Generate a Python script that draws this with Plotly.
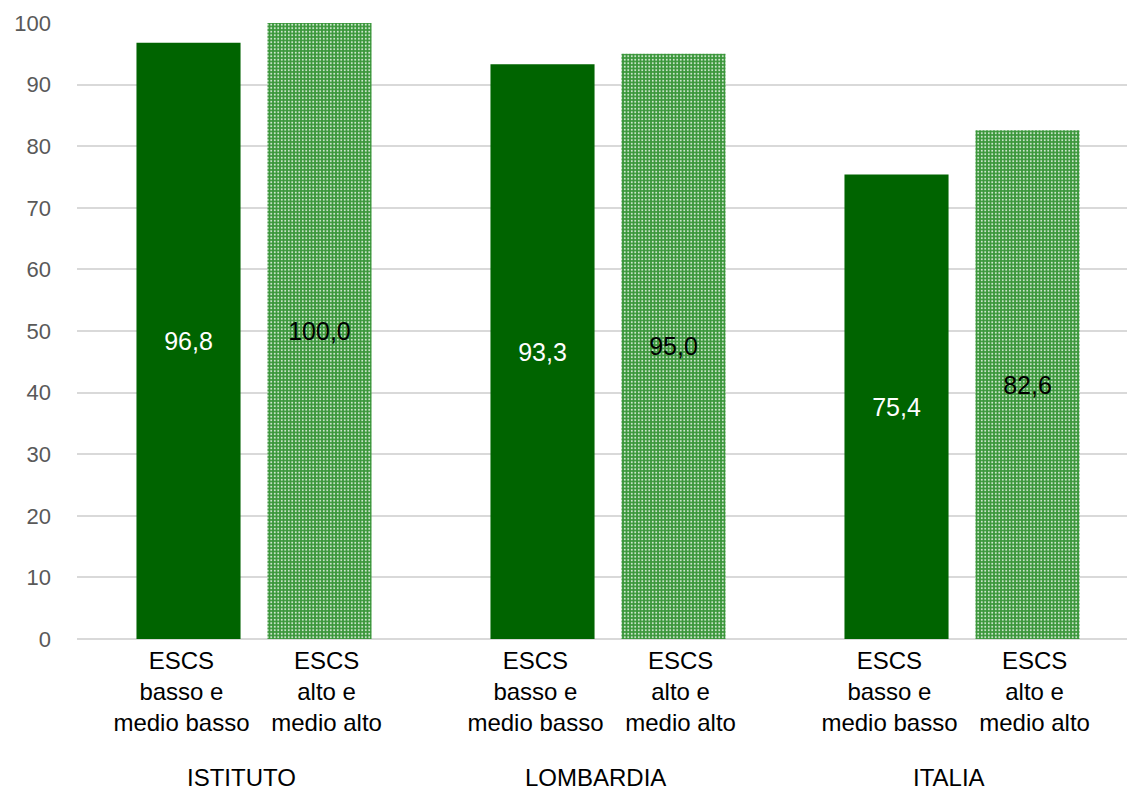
import plotly.graph_objects as go

groups = ["ISTITUTO", "LOMBARDIA", "ITALIA"]
sub_labels = ["ESCS<br>basso e<br>medio basso", "ESCS<br>alto e<br>medio alto"]
basso = [96.8, 93.3, 75.4]
alto = [100.0, 95.0, 82.6]
y_ticks = [0, 10, 20, 30, 40, 50, 60, 70, 80, 90, 100]

FONT = "Liberation Sans"
off = 0.185      # bar offset from group centre
lab_off = 0.205  # label offset from group centre
bw = 0.294
gx = [i + 0.5 for i in range(len(groups))]
x_b = [g - off for g in gx]
x_a = [g + off for g in gx]

def fmt(v):
    return f"{v:.1f}".replace(".", ",")

fig = go.Figure()
fig.add_trace(go.Bar(
    x=x_b, y=basso, width=bw,
    marker=dict(color="#006400", line=dict(width=0)),
    text=[fmt(v) for v in basso], textposition="inside",
    insidetextanchor="middle", textangle=0,
    textfont=dict(family=FONT, size=25, color="white"),
    showlegend=False, hoverinfo="skip",
))
fig.add_trace(go.Bar(
    x=x_a, y=alto, width=bw,
    marker=dict(color="#45a045", line=dict(width=0),
                pattern=dict(shape=".", fgcolor="#d4ead4", bgcolor="#3a963a",
                             size=3.5, solidity=0.25, fillmode="replace")),
    text=[fmt(v) for v in alto], textposition="inside",
    insidetextanchor="middle", textangle=0,
    textfont=dict(family=FONT, size=25, color="black"),
    showlegend=False, hoverinfo="skip",
))

ticks_x = []
ticks_t = []
for g in gx:
    ticks_x += [g - lab_off, g + lab_off]
    ticks_t += sub_labels

fig.update_layout(
    width=1127, height=793,
    margin=dict(l=77, r=0, t=23, b=154, autoexpand=False),
    plot_bgcolor="white", paper_bgcolor="white",
    barmode="overlay",
    font=dict(family=FONT),
    xaxis=dict(range=[0, 3 * 1050 / 1062], tickmode="array", tickvals=ticks_x, ticktext=ticks_t,
               tickfont=dict(family=FONT, size=24, color="black"),
               showgrid=False, zeroline=False, showline=False, ticks="",
               ticklabelstandoff=5),
    yaxis=dict(range=[0, 100], tickmode="array", tickvals=y_ticks,
               tickfont=dict(family=FONT, size=22, color="#595959"),
               showgrid=True, gridcolor="#d9d9d9", gridwidth=2,
               zeroline=True, zerolinecolor="#d9d9d9", zerolinewidth=2,
               showline=False, ticks="", ticklabelstandoff=25),
)

for i, g in enumerate(groups):
    fig.add_annotation(x=gx[i], xref="x", y=0, yref="paper", yshift=-138, xshift=-13,
                       text=g, showarrow=False, yanchor="middle",
                       font=dict(family=FONT, size=24, color="black"))

fig.write_html(
    "out.html",
    config={"displayModeBar": False},
    post_script=("document.documentElement.style.overflow='hidden';"
                 "document.body.style.margin='0';document.body.style.overflow='hidden';"),
)
